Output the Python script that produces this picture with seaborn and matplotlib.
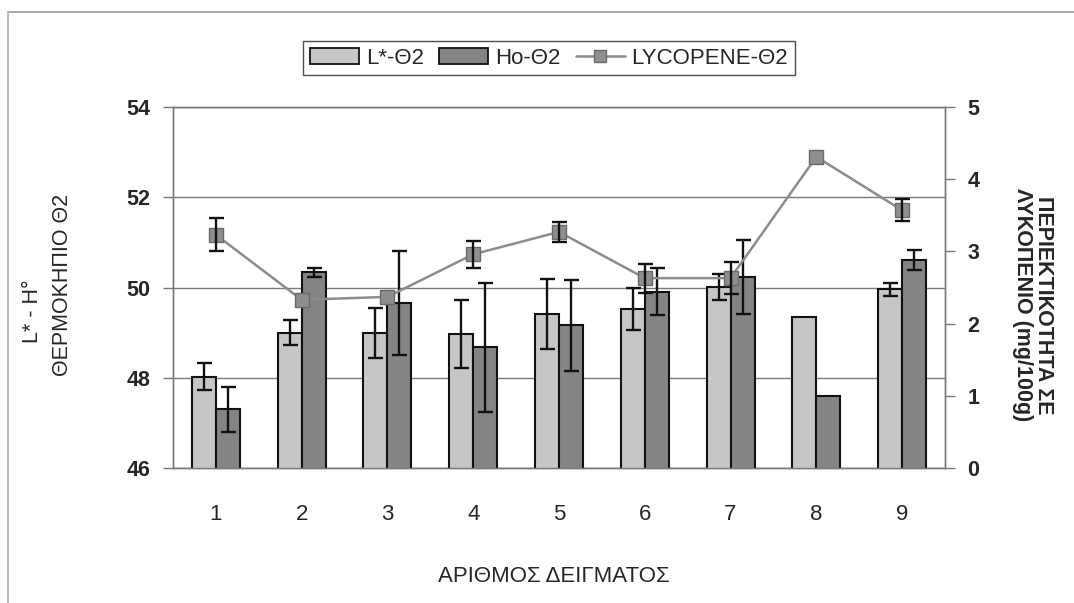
import numpy as np
import pandas as pd
import matplotlib
matplotlib.use("Agg")
import matplotlib.pyplot as plt
from matplotlib.lines import Line2D
from matplotlib.patches import Patch
import seaborn as sns

# ---- data ----
samples = ["1", "2", "3", "4", "5", "6", "7", "8", "9"]
L_vals = [48.02, 49.00, 48.99, 48.97, 49.41, 49.52, 50.01, 49.34, 49.96]
L_err = [0.30, 0.28, 0.55, 0.75, 0.78, 0.47, 0.29, np.nan, 0.14]
H_vals = [47.30, 50.34, 49.65, 48.68, 49.16, 49.91, 50.24, 47.60, 50.61]
H_err = [0.50, 0.10, 1.15, 1.43, 1.00, 0.52, 0.82, np.nan, 0.23]
lyc_vals = [3.23, 2.33, 2.37, 2.96, 3.27, 2.63, 2.63, 4.31, 3.57]
lyc_err = [0.23, np.nan, np.nan, 0.19, 0.14, 0.20, 0.22, np.nan, 0.15]
series_names = ["L*-Θ2", "Ho-Θ2", "LYCOPENE-Θ2"]
left_ticks = [46, 48, 50, 52, 54]
right_ticks = [0, 1, 2, 3, 4, 5]

W, H = 1074, 603
sns.set_style("white")
plt.rcParams["font.family"] = ["Liberation Sans", "DejaVu Sans"]
NARROW = ["Liberation Sans Narrow", "Liberation Sans", "DejaVu Sans"]

fig = plt.figure(figsize=(W / 100, H / 100), dpi=100)
ax = fig.add_axes([173 / W, 1 - 468 / H, (945 - 173) / W, (468 - 107) / H])

df = pd.DataFrame({
    "sample": samples * 2,
    "series": [series_names[0]] * 9 + [series_names[1]] * 9,
    "value": L_vals + H_vals,
})
L_col, H_col = "#c6c6c6", "#848484"
sns.barplot(data=df, x="sample", y="value", hue="series", order=samples,
            hue_order=series_names[:2], palette=[L_col, H_col], width=0.56,
            edgecolor="#111111", linewidth=1.5, saturation=1, legend=False,
            ax=ax, zorder=3)

# error bars for bars
for cont, errs in zip(ax.containers, [L_err, H_err]):
    xs = [p.get_x() + p.get_width() / 2 for p in cont.patches]
    ys = [p.get_y() + p.get_height() for p in cont.patches]
    ax.errorbar(xs, ys, yerr=errs, fmt="none", ecolor="#111111",
                elinewidth=1.7, capsize=5.4, capthick=1.7, zorder=4)

ax.set_ylim(46, 54)
ax.set_xlim(-0.5, 8.5)
ax.set_yticks(left_ticks)
ax.set_yticklabels([str(t) for t in left_ticks], fontsize=15.5, fontweight="bold")
ax.yaxis.grid(True, color="#7a7a7a", linewidth=1.0)
ax.set_axisbelow(True)
ax.set_xlabel("")
ax.set_ylabel("")

# x ticks: marks at category boundaries, labels at centers
ax.set_xticks(np.arange(-0.5, 9.0, 1.0))
ax.set_xticklabels([])
ax.set_xticks(np.arange(9), minor=True)
ax.set_xticklabels(samples, minor=True, fontsize=16, family=NARROW)
ax.tick_params(axis="x", which="major", length=6, color="#777777", width=1)
ax.tick_params(axis="x", which="minor", length=0, pad=26)
ax.tick_params(axis="y", length=7, color="#777777", width=1, pad=9, left=True)
for s in ax.spines.values():
    s.set_color("#7a7a7a")
    s.set_linewidth(1.0)

# lycopene on secondary axis
ax2 = ax.twinx()
xi = np.arange(9)
sns.lineplot(x=xi, y=lyc_vals, ax=ax2, color="#8c8c8c", linewidth=1.8,
             marker="s", markersize=10, markerfacecolor="#8e8e8e",
             markeredgecolor="#6a6a6a", markeredgewidth=1.0, zorder=5)
ax2.errorbar(xi, lyc_vals, yerr=lyc_err, fmt="none", ecolor="#111111",
             elinewidth=1.7, capsize=5.4, capthick=1.7, zorder=6)
ax2.set_ylim(0, 5)
ax2.set_xlim(-0.5, 8.5)
ax2.set_yticks(right_ticks)
ax2.set_yticklabels([str(t) for t in right_ticks], fontsize=15.5, fontweight="bold")
ax2.tick_params(axis="y", length=7, color="#777777", width=1, pad=9, right=True)
ax2.set_ylabel("")
for s in ax2.spines.values():
    s.set_color("#7a7a7a")
    s.set_linewidth(1.0)

def fx(px):
    return px / W

def fy(py):
    return 1 - py / H

# axis titles
fig.text(fx(32), fy(311), "L* - H°", rotation=90, ha="center", va="center", fontsize=15.5)
fig.text(fx(63), fy(285), "ΘΕΡΜΟΚΗΠΙΟ Θ2", rotation=90, ha="center", va="center", fontsize=15.5)
fig.text(fx(1033), fy(305), "ΠΕΡΙΕΚΤΙΚΟΤΗΤΑ ΣΕ\nΛΥΚΟΠΕΝΙΟ (mg/100g)", rotation=270,
         ha="center", va="center", fontsize=15.5, fontweight="bold",
         multialignment="center", linespacing=1.05)
fig.text(fx(554), fy(576), "ΑΡΙΘΜΟΣ ΔΕΙΓΜΑΤΟΣ", ha="center", va="center",
         fontsize=16, family=NARROW)

# legend
handles = [
    Patch(facecolor=L_col, edgecolor="#111111", linewidth=1.3),
    Patch(facecolor=H_col, edgecolor="#111111", linewidth=1.3),
    Line2D([0], [0], color="#8c8c8c", linewidth=1.8, marker="s", markersize=8,
           markerfacecolor="#8e8e8e", markeredgecolor="#6a6a6a"),
]
leg = fig.legend(handles, series_names, loc="center", ncol=3,
                 bbox_to_anchor=(fx(549), fy(58)), fontsize=16, frameon=True,
                 fancybox=False, edgecolor="#222222", handlelength=2.2,
                 handleheight=0.7, handletextpad=0.3, columnspacing=0.7,
                 borderpad=0.3)
leg.get_frame().set_linewidth(1.0)

# outer frame fragments
fig.add_artist(Line2D([fx(8), 1.0], [fy(12), fy(12)], color="#9a9a9a", linewidth=1.2,
                      transform=fig.transFigure))
fig.add_artist(Line2D([fx(8), fx(8)], [fy(12), 0.0], color="#b0b0b0", linewidth=1.2,
                      transform=fig.transFigure))

fig.savefig("out.png", dpi=100, facecolor="white")
